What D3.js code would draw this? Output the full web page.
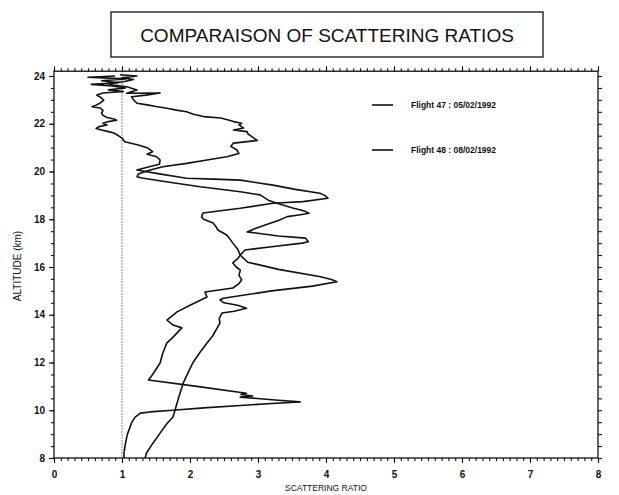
<!DOCTYPE html>
<html>
<head>
<meta charset="utf-8">
<script src="https://cdnjs.cloudflare.com/ajax/libs/d3/7.8.5/d3.min.js"></script>
<style>
  body { margin: 0; background: #fff; }
  svg { font-family: "Liberation Sans", Arial, sans-serif; }
</style>
</head>
<body>
<svg id="chart" width="619" height="495"></svg>
<script>
// Flight 47 profile (altitude km, scattering ratio)
var flight47Alt = [8.0, 8.21, 8.6, 9.0, 9.47, 9.7, 9.88, 9.93, 10.0, 10.1, 10.2, 10.28, 10.35, 10.42, 10.55, 10.6, 10.66, 10.71, 11.0, 11.27,
  11.5, 11.98, 12.4, 12.82, 13.0, 13.24, 13.45, 13.57, 13.78, 14.12, 14.4, 14.74, 14.95, 15.12, 15.3, 15.46, 15.65, 15.87, 16.0, 16.17,
  16.35, 16.5, 16.75, 17.0, 17.2, 17.34, 17.55, 17.7, 17.84, 18.0, 18.1, 18.26, 18.46, 18.67, 18.74, 18.88, 19.0, 19.09, 19.25, 19.43,
  19.64, 19.68, 19.72, 19.9, 20.06, 20.18, 20.3, 20.48, 20.62, 20.72, 20.83, 20.98, 21.11, 21.25, 21.4, 21.55, 21.61, 21.67, 21.74, 21.8,
  21.88, 21.95, 22.02, 22.09, 22.15, 22.2, 22.26, 22.35, 22.45, 22.55, 22.66, 22.71, 22.78, 22.87, 22.98, 23.08, 23.2, 23.29, 23.35, 23.42,
  23.5, 23.58, 23.65, 23.72, 23.8, 23.88, 23.95, 24.0];
var flight47Ratio = [1.03, 1.03, 1.05, 1.08, 1.14, 1.19, 1.27, 1.41, 1.75, 2.2, 2.74, 3.2, 3.62, 3.3, 2.74, 2.92, 2.75, 2.83, 2.1, 1.39,
  1.45, 1.56, 1.6, 1.66, 1.73, 1.81, 1.88, 1.75, 1.66, 1.81, 2.0, 2.25, 2.22, 2.63, 2.72, 2.76, 2.72, 2.74, 2.68, 2.63,
  2.7, 2.74, 2.7, 2.63, 2.58, 2.54, 2.41, 2.38, 2.34, 2.2, 2.17, 2.19, 2.74, 3.22, 3.66, 4.03, 3.98, 3.91, 3.55, 3.22,
  2.74, 2.35, 1.95, 1.55, 1.22, 1.37, 1.55, 1.56, 1.51, 1.37, 1.45, 1.38, 1.24, 1.04, 1.0, 0.92, 0.88, 0.8, 0.7, 0.62,
  0.66, 0.78, 0.72, 0.8, 0.92, 0.88, 0.78, 0.72, 0.7, 0.72, 0.68, 0.56, 0.62, 0.68, 0.73, 0.7, 0.63, 0.72, 1.02, 0.8,
  1.05, 0.85, 0.55, 0.95, 0.7, 1.05, 0.5, 0.9];

// Flight 48 profile
var flight48Alt = [8.0, 8.21, 8.6, 9.0, 9.4, 9.72, 10.0, 10.5, 11.14, 11.5, 11.98, 12.4, 12.82, 13.1, 13.45, 13.65, 13.85, 14.07, 14.15, 14.27,
  14.4, 14.5, 14.62, 14.69, 15.0, 15.2, 15.38, 15.48, 15.59, 15.9, 16.2, 16.38, 16.5, 16.71, 16.85, 17.0, 17.06, 17.21, 17.3, 17.47,
  17.6, 17.83, 17.95, 18.11, 18.18, 18.25, 18.32, 18.39, 18.47, 18.67, 18.8, 19.02, 19.15, 19.36, 19.55, 19.73, 19.78, 19.9, 20.05, 20.2,
  20.34, 20.48, 20.62, 20.75, 20.9, 21.05, 21.19, 21.25, 21.3, 21.38, 21.46, 21.58, 21.67, 21.74, 21.82, 21.95, 22.02, 22.09, 22.17, 22.24,
  22.3, 22.4, 22.5, 22.57, 22.65, 22.72, 22.79, 22.86, 23.0, 23.13, 23.2, 23.29, 23.28, 23.41, 23.55, 23.62, 23.69, 23.76, 23.85, 23.92,
  24.0, 24.05];
var flight48Ratio = [1.34, 1.36, 1.45, 1.55, 1.65, 1.75, 1.78, 1.83, 1.9, 1.96, 2.04, 2.14, 2.25, 2.33, 2.4, 2.44, 2.43, 2.47, 2.65, 2.83,
  2.7, 2.5, 2.44, 2.49, 3.2, 3.8, 4.16, 4.08, 3.92, 3.3, 2.85, 2.78, 2.74, 2.81, 3.2, 3.65, 3.74, 3.7, 3.3, 2.84,
  2.95, 3.18, 3.3, 3.43, 3.6, 3.75, 3.7, 3.63, 3.51, 3.28, 3.15, 3.03, 2.74, 2.15, 1.7, 1.29, 1.22, 1.24, 1.4, 1.6,
  1.95, 2.25, 2.54, 2.72, 2.69, 2.6, 2.64, 2.84, 2.99, 2.95, 2.91, 2.85, 2.84, 2.64, 2.79, 2.72, 2.76, 2.64, 2.55, 2.45,
  2.2, 2.05, 1.95, 1.8, 1.66, 1.5, 1.37, 1.22, 1.17, 1.14, 1.35, 1.56, 1.07, 1.22, 1.07, 0.87, 0.78, 1.02, 1.17, 1.0,
  1.22, 0.97];

var legendLabels = ["Flight 47 : 05/02/1992", "Flight 48 : 08/02/1992"];
var xTickLabels = [0, 1, 2, 3, 4, 5, 6, 7, 8];
var yTickLabels = [8, 10, 12, 14, 16, 18, 20, 22, 24];

var left = 54, right = 598, bottom = 458;
var svg = d3.select("#chart");

var x = d3.scaleLinear().domain([0, 8]).range([left, right]);
var y = d3.scaleLinear().domain([8, 24]).range([bottom, 76]);
var plotTop = y(24.2);

// title box
svg.append("rect")
  .attr("x", 111).attr("y", 12).attr("width", 432).attr("height", 45)
  .attr("fill", "none").attr("stroke", "#111").attr("stroke-width", 1.3);
svg.append("text")
  .attr("x", 327).attr("y", 41.5)
  .attr("text-anchor", "middle")
  .attr("font-size", "19px")
  .attr("fill", "#111")
  .text("COMPARAISON OF SCATTERING RATIOS");

// minor tick positions
var minorX = d3.range(0, 8.001, 0.1).map(d => +d.toFixed(1));
var minorY = d3.range(8, 24.001, 0.5);

function styleAxis(g) {
  g.select(".domain").remove();
  g.selectAll("line").attr("stroke", "#111").attr("stroke-width", 1.1);
  g.selectAll("text").attr("fill", "#111").attr("font-weight", "bold").attr("font-size", "10px");
}

// bottom axis
svg.append("g").attr("transform", `translate(0,${bottom})`)
  .call(d3.axisBottom(x).tickValues(minorX).tickSize(3).tickFormat(""))
  .call(styleAxis);
svg.append("g").attr("transform", `translate(0,${bottom})`)
  .call(d3.axisBottom(x).tickValues(xTickLabels).tickSize(5).tickPadding(8).tickFormat(d3.format("d")))
  .call(styleAxis);

// top axis
svg.append("g").attr("transform", `translate(0,${plotTop})`)
  .call(d3.axisTop(x).tickValues(minorX).tickSize(3).tickFormat(""))
  .call(styleAxis);
svg.append("g").attr("transform", `translate(0,${plotTop})`)
  .call(d3.axisTop(x).tickValues(xTickLabels).tickSize(5).tickFormat(""))
  .call(styleAxis);

// left axis
svg.append("g").attr("transform", `translate(${left},0)`)
  .call(d3.axisLeft(y).tickValues(minorY).tickSize(3).tickFormat(""))
  .call(styleAxis);
svg.append("g").attr("transform", `translate(${left},0)`)
  .call(d3.axisLeft(y).tickValues(yTickLabels).tickSize(5).tickPadding(4).tickFormat(d3.format("d")))
  .call(styleAxis);

// right axis
svg.append("g").attr("transform", `translate(${right},0)`)
  .call(d3.axisRight(y).tickValues(minorY).tickSize(4).tickFormat(""))
  .call(styleAxis);

// frame
svg.append("rect")
  .attr("x", left).attr("y", plotTop).attr("width", right - left).attr("height", bottom - plotTop)
  .attr("fill", "none").attr("stroke", "#111").attr("stroke-width", 1.3);

// reference line at ratio = 1
svg.append("line")
  .attr("x1", x(1)).attr("x2", x(1)).attr("y1", plotTop).attr("y2", bottom)
  .attr("stroke", "#333").attr("stroke-width", 0.8).attr("stroke-dasharray", "1.5,1.5");

// profiles
var line = d3.line().x(d => x(d[1])).y(d => y(d[0]));
[[flight47Alt, flight47Ratio], [flight48Alt, flight48Ratio]].forEach(function (f) {
  svg.append("path")
    .datum(d3.zip(f[0], f[1]))
    .attr("d", line)
    .attr("fill", "none")
    .attr("stroke", "#111")
    .attr("stroke-width", 1.6)
    .attr("stroke-linejoin", "round");
});

// legend
legendLabels.forEach(function (t, i) {
  var ly = 105 + i * 45;
  svg.append("line").attr("x1", 372).attr("x2", 393).attr("y1", ly).attr("y2", ly)
    .attr("stroke", "#111").attr("stroke-width", 1.6);
  svg.append("text").attr("x", 411).attr("y", ly + 3)
    .attr("font-size", "8.5px").attr("font-weight", "bold").attr("fill", "#111")
    .text(t);
});

// axis titles
svg.append("text")
  .attr("x", 326).attr("y", 491)
  .attr("text-anchor", "middle").attr("font-size", "8.5px").attr("fill", "#111")
  .text("SCATTERING RATIO");
svg.append("text")
  .attr("transform", "translate(21,266) rotate(-90)")
  .attr("text-anchor", "middle").attr("font-size", "10px").attr("fill", "#111")
  .text("ALTITUDE (km)");
</script>
</body>
</html>
